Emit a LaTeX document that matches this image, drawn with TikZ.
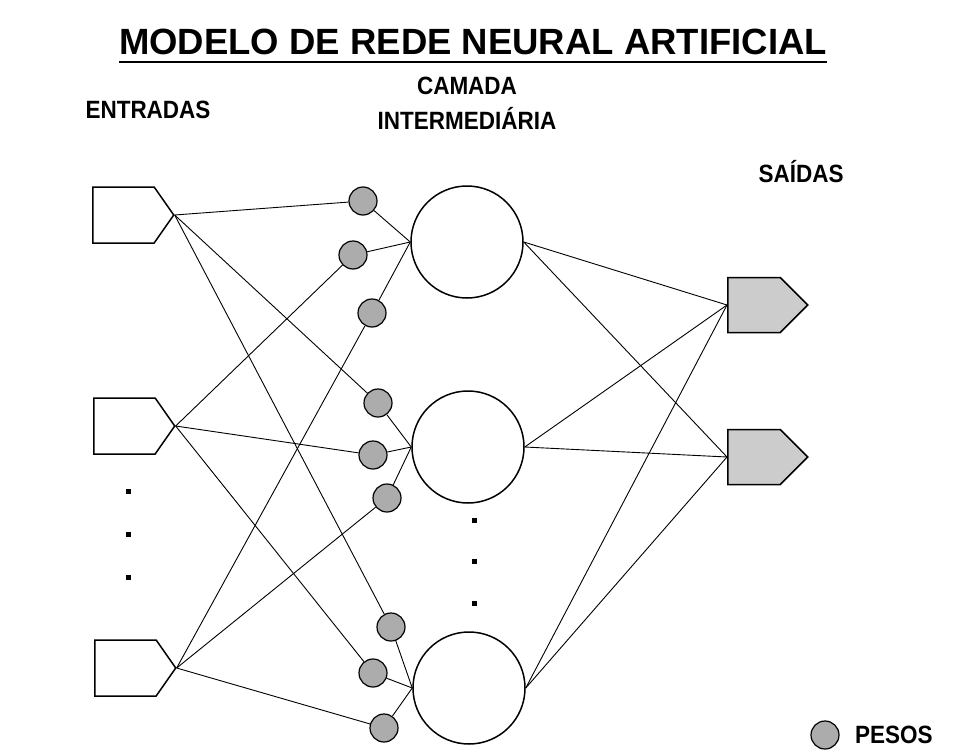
\documentclass[tikz,border=0pt]{standalone}
\usepackage{fontspec}
\setmainfont{Liberation Sans}
\usepackage{graphicx}
\usepackage{tikz}
\usetikzlibrary{shapes.symbols, shapes.geometric, positioning, calc}
\newcommand{\narrowtxt}[1]{\scalebox{0.9}[1]{#1}}
\tikzset{
  % Network styles
  inputbox/.style={signal, signal to=east, signal pointer angle=110, draw=black, line width=1.5pt, fill=white, minimum width=81pt, minimum height=56pt, inner sep=0pt},
  outputbox/.style={signal, signal to=east, signal pointer angle=90, draw=black, line width=1.5pt, fill=gray!40, minimum width=80pt, minimum height=55pt, inner sep=0pt},
  neuron/.style={circle, draw=black, line width=1.5pt, fill=white, minimum size=112pt, inner sep=0pt},
  weight/.style={circle, draw=black, line width=1.2pt, fill=gray!65, minimum size=28pt, inner sep=0pt},
  link/.style={line width=0.9pt},
  dotmark/.style={rectangle, fill=black, minimum size=5pt, inner sep=0pt},
  % Text styles
  titletext/.style={font=\bfseries\fontsize{36.5}{40}\selectfont, inner sep=0pt},
  layertext/.style={font=\bfseries\fontsize{25}{35}\selectfont, inner sep=0pt, align=center},
}
\begin{document}
\begin{tikzpicture}[x=1pt, y=-1pt]
    \useasboundingbox (0,0) rectangle (955,752);

    % Title
    \node[titletext, anchor=base] (title) at (473,55) {MODELO DE REDE NEURAL ARTIFICIAL};
    \draw[line width=2.5pt] ([yshift=-7pt]title.base west) -- ([yshift=-7pt]title.base east);

    % Layer labels
    \node[layertext, anchor=base] (lblin) at (148,118) {\narrowtxt{ENTRADAS}};
    \node[layertext] (lblhid) at (467,103) {\narrowtxt{CAMADA}\\\narrowtxt{INTERMEDIÁRIA}};
    \node[layertext, anchor=base] (lblout) at (801,182) {\narrowtxt{SAÍDAS}};

    % Inputs
    \node[inputbox, anchor=west] (in1) at (92,215) {};
    \node[inputbox, anchor=west] (in2) at (93,426) {};
    \node[inputbox, anchor=west] (in3) at (94,668) {};
    \node[dotmark] (ind1) at (128,491) {};
    \node[dotmark] (ind2) at (128,534) {};
    \node[dotmark] (ind3) at (128,577) {};

    % Hidden layer
    \node[neuron] (h1) at (467,242) {};
    \node[neuron] (h2) at (468,447) {};
    \node[neuron] (h3) at (469,688) {};
    \node[dotmark] (hd1) at (474,520) {};
    \node[dotmark] (hd2) at (474,561) {};
    \node[dotmark] (hd3) at (474,603) {};

    % Weights
    \node[weight] (w11) at (363,201) {};
    \node[weight] (w12) at (353,255) {};
    \node[weight] (w13) at (372,313) {};
    \node[weight] (w21) at (378,403) {};
    \node[weight] (w22) at (373,455) {};
    \node[weight] (w23) at (387,498) {};
    \node[weight] (w31) at (391,627) {};
    \node[weight] (w32) at (373,673) {};
    \node[weight] (w33) at (384,728) {};

    % Outputs
    \node[outputbox, anchor=west] (out1) at (727,305) {};
    \node[outputbox, anchor=west] (out2) at (727,457) {};

    % Input to weight links
    \draw[link] (in1.east) -- (w11);
    \draw[link] (in1.east) -- (w21);
    \draw[link] (in1.east) -- (w31);
    \draw[link] (in2.east) -- (w12);
    \draw[link] (in2.east) -- (w22);
    \draw[link] (in2.east) -- (w32);
    \draw[link] (in3.east) -- (w13);
    \draw[link] (in3.east) -- (w23);
    \draw[link] (in3.east) -- (w33);

    % Weight to neuron links
    \draw[link] (w11) -- (h1.west);
    \draw[link] (w12) -- (h1.west);
    \draw[link] (w13) -- (h1.west);
    \draw[link] (w21) -- (h2.west);
    \draw[link] (w22) -- (h2.west);
    \draw[link] (w23) -- (h2.west);
    \draw[link] (w31) -- (h3.west);
    \draw[link] (w32) -- (h3.west);
    \draw[link] (w33) -- (h3.west);

    % Neuron to output links
    \draw[link] (h1.east) -- (out1.west);
    \draw[link] (h1.east) -- (out2.west);
    \draw[link] (h2.east) -- (out1.west);
    \draw[link] (h2.east) -- (out2.west);
    \draw[link] (h3.east) -- (out1.west);
    \draw[link] (h3.east) -- (out2.west);

    % Legend
    \node[weight] (legw) at (825,735) {};
    \node[layertext, anchor=west] (legtext) at (855,735) {\narrowtxt{PESOS}};
  \end{tikzpicture}
\end{document}
